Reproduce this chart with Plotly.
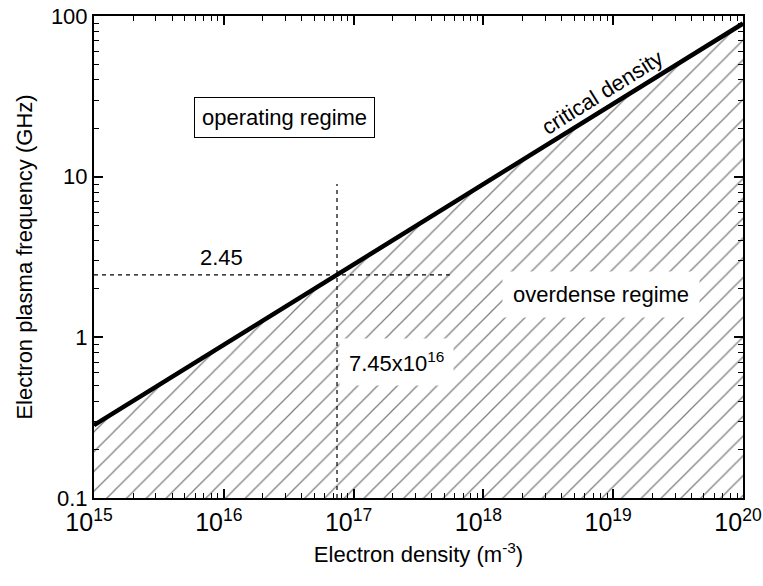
import plotly.graph_objects as go

# Critical (cutoff) density line: electron density (m^-3) vs plasma frequency (GHz)
density = [1e15, 1e20]
plasma_freq = [0.284, 89.8]

# Axis limits
x_min, x_max = 1e15, 1e20
y_min, y_max = 0.1, 100

# Operating point for 2.45 GHz
f_op = 2.45
n_op = 7.45e16
h_line_end = 5.5e17
v_line_top = 9.0

FONT = "Liberation Sans, Arial, sans-serif"

fig = go.Figure()

# Hatched overdense region below the critical line
fig.add_trace(go.Scatter(
    x=density + [density[-1], density[0]],
    y=plasma_freq + [y_min, y_min],
    fill="toself",
    fillcolor="white",
    fillpattern=dict(shape="/", size=14, solidity=0.09, fgcolor="black", bgcolor="white"),
    line=dict(width=0),
    mode="lines",
    hoverinfo="skip",
    showlegend=False,
))

# Dashed guide lines through the operating point
fig.add_trace(go.Scatter(
    x=[x_min, h_line_end], y=[f_op, f_op], mode="lines",
    line=dict(color="black", width=1.2, dash="4px,4px"), showlegend=False,
))
fig.add_trace(go.Scatter(
    x=[n_op, n_op], y=[y_min, v_line_top], mode="lines",
    line=dict(color="black", width=1.2, dash="4px,4px"), showlegend=False,
))

# Critical density line
fig.add_trace(go.Scatter(
    x=density, y=plasma_freq, mode="lines",
    line=dict(color="black", width=4.5), showlegend=False,
))

axis_common = dict(
    type="log",
    showgrid=False,
    zeroline=False,
    showline=True,
    linecolor="black",
    linewidth=2,
    mirror="allticks",
    ticks="inside",
    ticklen=9,
    tickwidth=1.5,
    tickcolor="black",
    dtick=1,
    minor=dict(ticks="inside", dtick="D1", ticklen=5, tickwidth=1.2,
               tickcolor="black", showgrid=False),
    ticklabeloverflow="allow",
    automargin=False,
)

fig.update_xaxes(
    **axis_common,
    range=[15, 20],
    exponentformat="power",
    showexponent="all",
    ticklabelstandoff=2,
    ticklabelshift=-5,
    tickfont=dict(family=FONT, size=20, color="black"),
    title=dict(text="Electron density (m<sup>-3</sup>)", font=dict(family=FONT, size=22, color="black"), standoff=12),
)
fig.update_yaxes(
    **axis_common,
    range=[-1, 2],
    tickfont=dict(family=FONT, size=22, color="black"),
    title=dict(text="Electron plasma frequency (GHz)", font=dict(family=FONT, size=22, color="black"), standoff=12),
)

ann_font = dict(family=FONT, size=22, color="black")
fig.add_annotation(x=16.471, y=1.371, xref="x", yref="y", text="operating regime",
                   showarrow=False, font=ann_font, bgcolor="white",
                   bordercolor="black", borderwidth=1, borderpad=7)
fig.add_annotation(x=18.914, y=1.526, xref="x", yref="y", text="critical density",
                   showarrow=False, font=ann_font, textangle=-32)
fig.add_annotation(x=15.986, y=0.50, xref="x", yref="y", text="2.45",
                   showarrow=False, font=ann_font)
fig.add_annotation(x=18.906, y=0.269, xref="x", yref="y", text="overdense regime",
                   showarrow=False, font=ann_font, bgcolor="white", borderpad=10)
fig.add_annotation(x=17.334, y=-0.154, xref="x", yref="y", text="7.45x10<sup>16</sup>",
                   showarrow=False, font=ann_font, bgcolor="white", borderpad=9)

fig.update_layout(
    width=763, height=586,
    margin=dict(l=94, r=20, t=16, b=88),
    paper_bgcolor="white",
    plot_bgcolor="white",
    font=dict(family=FONT, color="black"),
)

fig.write_html("out.html")
